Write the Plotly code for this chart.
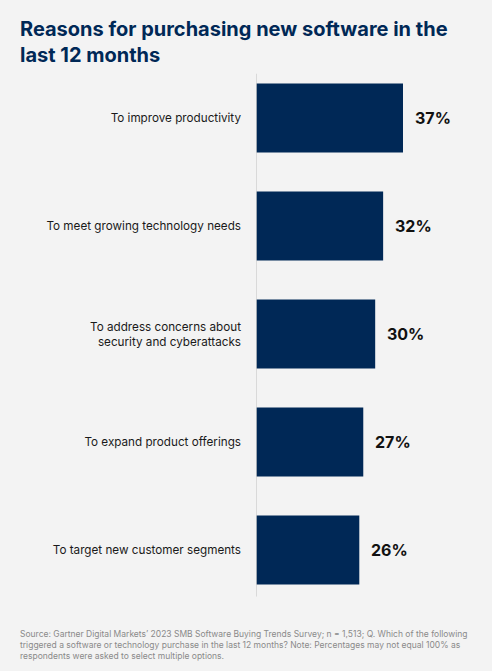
import plotly.graph_objects as go

# Données
reasons = [
    "To improve productivity",
    "To meet growing technology needs",
    "To address concerns about<br>security and cyberattacks",
    "To expand product offerings",
    "To target new customer segments",
]
shares = [37, 32, 30, 27, 26]
share_labels = ["37%", "32%", "30%", "27%", "26%"]

title = "Reasons for purchasing new software in the<br>last 12 months"
source = (
    "Source: Gartner Digital Markets’ 2023 SMB Software Buying Trends Survey; n = 1,513; Q. Which of the following<br>"
    "triggered a software or technology purchase in the last 12 months? Note: Percentages may not equal 100% as<br>"
    "respondents were asked to select multiple options."
)

NAVY = "#002856"
BG = "#f3f3f3"
PLOT_W = 236
PLOT_H = 540

fig = go.Figure(
    go.Bar(
        x=shares,
        y=reasons,
        orientation="h",
        marker=dict(color=NAVY, line=dict(width=0)),
        hoverinfo="skip",
    )
)

# Étiquettes de valeur à droite des barres
for r, v, lab in zip(reasons, shares, share_labels):
    fig.add_annotation(
        x=v, y=r, text=f"<b>{lab}</b>", showarrow=False,
        xanchor="left", xshift=10,
        font=dict(family="Inter", size=16, color="#111111"),
    )

# Ligne verticale de l'axe
fig.add_shape(
    type="line", xref="x", yref="paper", x0=0, x1=0, y0=0.014, y1=0.982,
    line=dict(color="#d0d0d0", width=1.5),
)

fig.add_annotation(
    xref="paper", yref="paper", x=(18 - 256) / PLOT_W, y=1 + (64 - 15) / PLOT_H,
    text=f"<b>{title}</b>", showarrow=False, xanchor="left", yanchor="top", align="left",
    font=dict(family="Inter", size=20, color=NAVY),
)
fig.add_annotation(
    xref="paper", yref="paper", x=(18 - 256) / PLOT_W, y=-(627 - 604) / PLOT_H,
    text=source, showarrow=False, xanchor="left", yanchor="top", align="left",
    font=dict(family="Inter", size=8.5, color="#8a8a8a"),
)

fig.update_layout(
    width=492, height=671,
    margin=dict(l=256, r=0, t=64, b=67),
    paper_bgcolor=BG, plot_bgcolor=BG,
    bargap=0.36,
    showlegend=False,
    font=dict(family="Inter", color="#1a1a1a"),
)
fig.update_xaxes(range=[0, 37 * PLOT_W / 147], visible=False, fixedrange=True)
fig.update_yaxes(
    autorange="reversed", showgrid=False, zeroline=False, showline=False,
    ticks="", ticklabelstandoff=14, tickfont=dict(family="Inter", size=11.7, color="#1a1a1a"),
    automargin=False, fixedrange=True,
)

fig.write_html(
    "out.html",
    config={"displayModeBar": False},
    post_script="document.body.style.margin='0';",
)
